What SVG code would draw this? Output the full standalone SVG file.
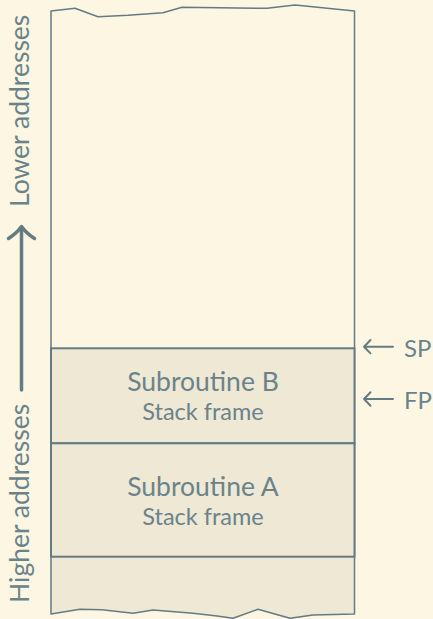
<svg xmlns="http://www.w3.org/2000/svg" width="433" height="619" viewBox="0 0 433 619">
  <style>
    .edge { fill: none; stroke: #657b83; stroke-width: 1.5; stroke-linejoin: round; }
    .frame { fill: #eee8d5; stroke: #657b83; stroke-width: 2; }
    .label { font-family: Lato, "Open Sans", sans-serif; font-weight: 400; fill: #6a838b; }
    .title { font-size: 26.5px; text-anchor: middle; }
    .sub { font-size: 23.5px; text-anchor: middle; }
    .side { font-size: 26.5px; }
    .ptr { font-size: 24px; }
    .arrow { fill: none; stroke: #657b83; stroke-linecap: round; stroke-linejoin: round; }
  </style>
  <rect width="433" height="619" fill="#fdf6e3"/>

  <!-- memory column: torn top and bottom edges -->
  <g id="memory">
    <path d="M51,614 L51,348 L354.5,348 L354.5,614 L313,615 L290,618.3 L258,609.3 L233,618.3 L217,616 L193,613.3 L153,610 L133,613.3 L102,609.7 L80,609.3 Z" fill="#eee8d5"/>
    <path class="edge" d="M51,614 L51,11 L75,8.3 L98,16.7 L128,15.3 L163,12.7 L182,7.3 L267,8.3 L295,5 L354.5,11 L354.5,614 L313,615 L290,618.3 L258,609.3 L233,618.3 L217,616 L193,613.3 L153,610 L133,613.3 L102,609.7 L80,609.3 Z"/>
  </g>

  <g id="frame-b">
    <rect class="frame" x="51" y="348.3" width="303.5" height="95"/>
    <text class="label title" x="203" y="390.5">Subroutine B</text>
    <text class="label sub" x="203" y="419.5">Stack frame</text>
  </g>

  <g id="frame-a">
    <rect class="frame" x="51" y="443.3" width="303.5" height="113.4"/>
    <text class="label title" x="203" y="495.5">Subroutine A</text>
    <text class="label sub" x="203" y="524.5">Stack frame</text>
  </g>

  <g id="axis">
    <text class="label side" transform="translate(28.5,207) rotate(-90)">Lower addresses</text>
    <text class="label side" transform="translate(28.5,603) rotate(-90)">Higher addresses</text>
  </g>

  <g id="pointers">
    <text class="label ptr" x="404" y="356.7">SP</text>
    <text class="label ptr" x="404" y="409">FP</text>
  </g>

  <g id="connectors">
    <path class="arrow" stroke-width="3.5" d="M21.5,390 L21.5,228"/>
    <path class="arrow" stroke-width="3.5" d="M8.5,238.5 Q17,233 21.5,226.5 Q26,233 34.5,238.5"/>
    <path class="arrow" stroke-width="2" d="M393,346.7 L364,346.7 M370.5,340 L364,346.7 L370.5,353.4"/>
    <path class="arrow" stroke-width="2" d="M393,399 L364,399 M370.5,392.3 L364,399 L370.5,405.7"/>
  </g>
</svg>
